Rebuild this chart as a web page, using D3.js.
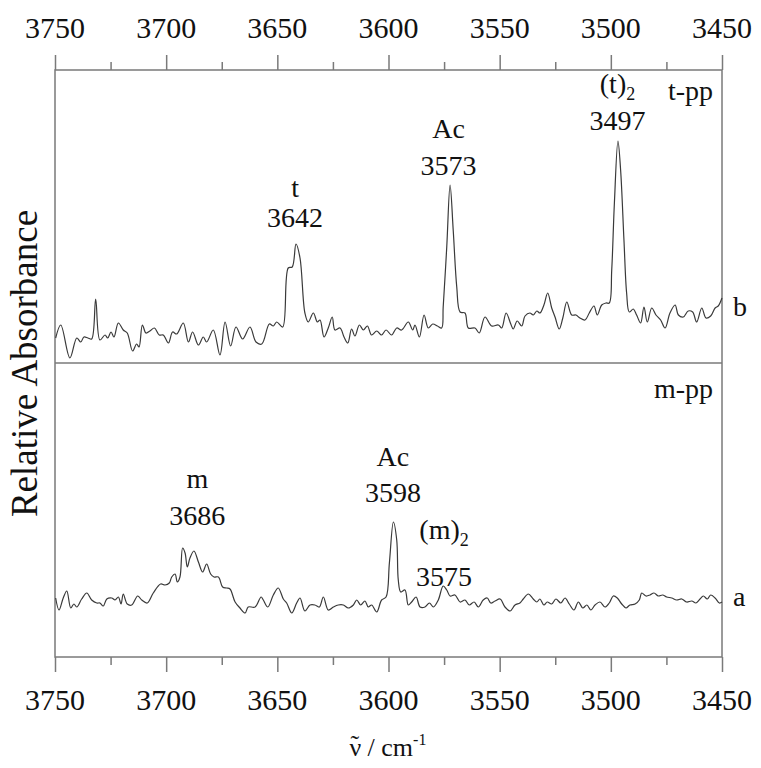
<!DOCTYPE html>
<html><head><meta charset="utf-8">
<script src="https://cdn.jsdelivr.net/npm/d3@7"></script>
</head>
<body style="margin:0">
<svg id="c" width="761" height="768"></svg>
<script>
// ---- data ----
const majorTicks = [3750, 3700, 3650, 3600, 3550, 3500, 3450];
const minorTicks = [3725, 3675, 3625, 3575, 3525, 3475];
const xTitleSymbol = "ν";
const xTitleUnit = " / cm";
const xTitleExp = "-1";
const yTitle = "Relative Absorbance";

// spectrum b (t-pp)
const wnB = [3749.7,3747.4,3743.3,3740.2,3738.4,3737.0,3735.2,3733.5,3731.7,3729.8,3727.5,3726.3,3724.8,3723.5,3721.5,3719.3,3717.5,3715.1,3713.3,3712.2,3710.7,3709.1,3707.3,3705.3,3703.1,3701.3,3699.0,3697.1,3695.3,3692.3,3690.0,3688.1,3685.5,3683.3,3681.8,3678.8,3675.8,3673.5,3671.0,3668.6,3665.6,3662.3,3659.6,3657.0,3653.6,3651.8,3650.3,3647.6,3645.1,3643.3,3641.6,3639.8,3637.6,3636.1,3633.8,3632.0,3630.8,3629.0,3627.1,3625.3,3624.1,3621.8,3620.0,3618.3,3616.6,3615.1,3613.1,3611.3,3609.5,3607.6,3605.3,3603.1,3601.1,3598.6,3596.3,3594.1,3591.1,3589.1,3588.1,3586.1,3584.0,3582.1,3580.1,3578.0,3576.1,3575.4,3573.8,3572.3,3570.9,3569.3,3567.8,3565.6,3564.1,3561.1,3559.2,3556.6,3553.6,3550.6,3549.1,3547.1,3545.0,3543.9,3542.1,3540.1,3538.6,3536.4,3534.9,3533.3,3531.9,3530.1,3528.4,3526.6,3525.1,3523.2,3521.6,3519.8,3517.6,3515.7,3513.9,3511.6,3509.7,3507.6,3506.1,3504.1,3502.2,3500.7,3499.6,3498.4,3496.8,3495.6,3494.1,3492.9,3491.7,3489.9,3488.4,3486.6,3485.1,3483.6,3481.6,3479.7,3477.6,3475.6,3473.4,3471.1,3469.6,3467.4,3465.2,3463.2,3461.4,3459.1,3457.2,3455.1,3453.1,3451.7,3450.0];
const absB = [0.025,0.038,0.005,0.025,0.021,0.026,0.025,0.024,0.064,0.023,0.028,0.025,0.031,0.026,0.040,0.033,0.030,0.012,0.019,0.016,0.038,0.030,0.032,0.035,0.028,0.028,0.020,0.031,0.029,0.040,0.021,0.031,0.018,0.026,0.021,0.033,0.008,0.041,0.017,0.036,0.024,0.036,0.021,0.019,0.039,0.037,0.041,0.036,0.095,0.096,0.119,0.105,0.050,0.041,0.050,0.041,0.043,0.026,0.035,0.046,0.033,0.035,0.026,0.020,0.034,0.027,0.038,0.033,0.037,0.028,0.032,0.028,0.033,0.028,0.035,0.033,0.041,0.033,0.038,0.026,0.048,0.035,0.039,0.037,0.035,0.056,0.116,0.178,0.133,0.076,0.051,0.050,0.035,0.035,0.030,0.046,0.037,0.038,0.035,0.050,0.039,0.034,0.042,0.037,0.047,0.050,0.048,0.052,0.050,0.058,0.070,0.055,0.046,0.034,0.045,0.061,0.048,0.048,0.045,0.043,0.050,0.057,0.048,0.058,0.060,0.060,0.093,0.160,0.222,0.193,0.123,0.070,0.051,0.054,0.048,0.040,0.056,0.041,0.055,0.048,0.043,0.035,0.050,0.058,0.048,0.046,0.052,0.051,0.041,0.055,0.045,0.047,0.055,0.057,0.065];

// spectrum a (m-pp)
const wnA = [3749.7,3748.2,3746.3,3744.7,3742.9,3741.5,3740.2,3738.0,3735.7,3733.5,3731.2,3729.8,3728.3,3726.7,3724.5,3723.0,3721.5,3720.3,3719.3,3717.5,3715.5,3712.8,3711.0,3708.5,3705.8,3702.5,3700.5,3698.6,3697.5,3696.0,3695.0,3693.8,3692.6,3691.5,3690.5,3689.3,3687.5,3685.5,3683.6,3681.8,3680.0,3678.5,3676.5,3674.6,3672.8,3671.3,3669.0,3666.8,3664.5,3663.1,3660.0,3657.3,3656.3,3654.3,3651.8,3649.6,3647.3,3645.8,3643.5,3641.3,3639.8,3637.6,3635.3,3633.1,3631.1,3629.3,3627.1,3624.8,3622.6,3620.3,3618.1,3615.8,3614.3,3612.5,3610.6,3609.1,3607.6,3605.3,3603.1,3601.1,3599.6,3597.8,3596.3,3595.6,3594.5,3592.6,3591.1,3589.6,3587.6,3585.8,3583.6,3581.6,3579.8,3577.6,3575.4,3573.8,3572.3,3570.1,3567.8,3565.6,3563.7,3561.5,3559.6,3557.4,3555.6,3554.0,3552.1,3549.8,3547.6,3545.3,3543.1,3540.9,3539.4,3537.1,3534.9,3533.3,3531.9,3530.1,3528.6,3526.6,3524.7,3522.5,3520.6,3518.7,3516.6,3514.6,3512.6,3510.8,3509.0,3507.1,3504.9,3502.6,3500.7,3498.9,3497.1,3495.1,3493.2,3491.4,3489.1,3487.2,3486.1,3484.2,3482.4,3480.6,3478.6,3476.7,3474.9,3472.6,3470.4,3468.1,3465.9,3463.6,3461.7,3459.9,3458.4,3456.6,3455.1,3453.1,3451.2,3450.0];
const absA = [0.059,0.047,0.059,0.066,0.049,0.053,0.050,0.058,0.064,0.057,0.054,0.054,0.051,0.058,0.059,0.057,0.060,0.053,0.063,0.053,0.052,0.061,0.057,0.054,0.064,0.073,0.072,0.074,0.080,0.083,0.075,0.080,0.109,0.104,0.090,0.099,0.106,0.095,0.085,0.093,0.083,0.080,0.080,0.070,0.069,0.068,0.055,0.049,0.044,0.050,0.050,0.060,0.057,0.050,0.062,0.069,0.058,0.054,0.044,0.054,0.059,0.046,0.052,0.052,0.050,0.060,0.047,0.050,0.052,0.052,0.049,0.052,0.057,0.052,0.056,0.050,0.052,0.045,0.057,0.060,0.094,0.135,0.117,0.077,0.065,0.067,0.052,0.055,0.060,0.050,0.050,0.054,0.050,0.057,0.071,0.067,0.061,0.062,0.055,0.057,0.052,0.055,0.050,0.057,0.059,0.054,0.056,0.058,0.050,0.046,0.052,0.054,0.058,0.063,0.058,0.055,0.058,0.052,0.055,0.053,0.058,0.054,0.059,0.053,0.047,0.055,0.049,0.052,0.047,0.052,0.055,0.050,0.054,0.061,0.059,0.053,0.049,0.052,0.053,0.057,0.064,0.061,0.062,0.064,0.061,0.062,0.060,0.059,0.057,0.058,0.055,0.056,0.054,0.058,0.061,0.058,0.062,0.059,0.054,0.055];

// peak annotations
const peaksB = [
  {name: "t", sub: "", wn: 3642},
  {name: "Ac", sub: "", wn: 3573},
  {name: "(t)", sub: "2", wn: 3497}
];
const peaksA = [
  {name: "m", sub: "", wn: 3686},
  {name: "Ac", sub: "", wn: 3598},
  {name: "(m)", sub: "2", wn: 3575}
];
const sampleNames = ["t-pp", "m-pp"];
const traceLetters = ["b", "a"];

// ---- layout ----
const FONT = "Liberation Serif";
const L = 55, R = 722, T = 70, B = 657, MID = 363;
const svg = d3.select("#c");
const x = d3.scaleLinear().domain([3750, 3450]).range([L, R]);
const yB = d3.scaleLinear().domain([0, 0.293]).range([MID, T]);
const yA = d3.scaleLinear().domain([0, 0.294]).range([B, MID]);
const frameColor = "#7a7a7a";
const ink = "#111";

function addText(px){
  return svg.append("text").attr("font-family", FONT).style("font-family", FONT)
    .style("font-size", px + "px").attr("fill", ink);
}

// frame
const frame = svg.append("g").attr("stroke", frameColor).attr("stroke-width", 1.5).attr("fill", "none");
frame.append("rect").attr("x", L).attr("y", T).attr("width", R - L).attr("height", B - T);
frame.append("line").attr("x1", L).attr("x2", R).attr("y1", MID).attr("y2", MID);

// axes: ticks from d3 axes, labels drawn as own text elements
function ticksOnly(g){
  g.select(".domain").remove();
  g.selectAll(".tick line").attr("stroke", frameColor).attr("stroke-width", 1.5);
  g.selectAll(".tick text").remove();
}
svg.append("g").attr("transform", `translate(0,${T})`)
  .call(d3.axisTop(x).tickValues(majorTicks).tickSize(15)).call(ticksOnly);
svg.append("g").attr("transform", `translate(0,${T})`)
  .call(d3.axisTop(x).tickValues(minorTicks).tickSize(8)).call(ticksOnly);
svg.append("g").attr("transform", `translate(0,${B})`)
  .call(d3.axisBottom(x).tickValues(majorTicks).tickSize(15)).call(ticksOnly);
svg.append("g").attr("transform", `translate(0,${B})`)
  .call(d3.axisBottom(x).tickValues(minorTicks).tickSize(8)).call(ticksOnly);
majorTicks.forEach(v => {
  addText(30).attr("x", x(v)).attr("y", 38).attr("text-anchor", "middle").text(v);
  addText(30).attr("x", x(v)).attr("y", 710).attr("text-anchor", "middle").text(v);
});

// spectra
const lineB = d3.line().x(d => x(d[0])).y(d => yB(d[1])).curve(d3.curveCatmullRom.alpha(0.5));
const lineA = d3.line().x(d => x(d[0])).y(d => yA(d[1])).curve(d3.curveCatmullRom.alpha(0.5));
svg.append("path").datum(d3.zip(wnB, absB)).attr("d", lineB)
  .attr("fill", "none").attr("stroke", "#3a3a3a").attr("stroke-width", 1.2);
svg.append("path").datum(d3.zip(wnA, absA)).attr("d", lineA)
  .attr("fill", "none").attr("stroke", "#3a3a3a").attr("stroke-width", 1.2);

// peak labels
function label(p, yName, yNum){
  const t = addText(28).attr("x", x(p.wn)).attr("y", yName).attr("text-anchor", "middle");
  t.append("tspan").text(p.name);
  if (p.sub) t.append("tspan").text(p.sub).style("font-size", "18px").attr("dy", 7);
  addText(28).attr("x", x(p.wn)).attr("y", yNum).attr("text-anchor", "middle").text(p.wn);
}
const nameYB = [197, 138, 93], numYB = [227, 175, 130];
const nameYA = [488, 466, 539], numYA = [525, 502, 586];
peaksB.forEach((p, i) => label(p, nameYB[i], numYB[i]));
peaksA.forEach((p, i) => label(p, nameYA[i], numYA[i]));

// sample names & trace letters
addText(28).attr("x", 713).attr("y", 100).attr("text-anchor", "end").text(sampleNames[0]);
addText(28).attr("x", 713).attr("y", 398).attr("text-anchor", "end").text(sampleNames[1]);
addText(28).attr("x", 733).attr("y", 316).text(traceLetters[0]);
addText(28).attr("x", 733).attr("y", 606).text(traceLetters[1]);

// axis titles
addText(37).attr("transform", `translate(37,${(T + B) / 2}) rotate(-90)`)
  .attr("text-anchor", "middle").text(yTitle);
const xt = addText(26).attr("x", 388).attr("y", 756).attr("text-anchor", "middle");
xt.append("tspan").text(xTitleSymbol);
xt.append("tspan").text("˜").attr("dx", -11).attr("dy", -3);
xt.append("tspan").text(xTitleUnit).attr("dx", 2).attr("dy", 3);
xt.append("tspan").text(xTitleExp).style("font-size", "16px").attr("dy", -11);
</script></body></html>
